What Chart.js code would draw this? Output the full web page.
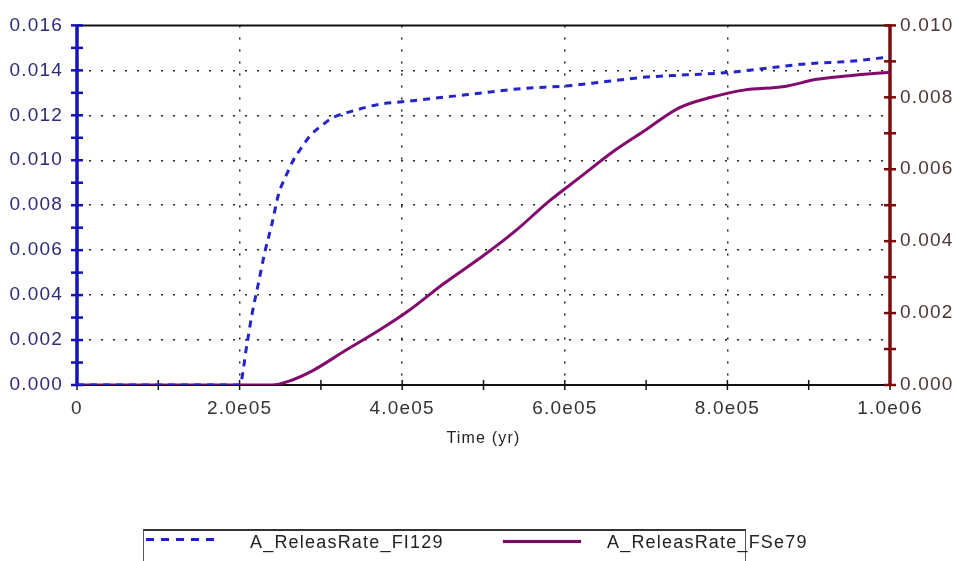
<!DOCTYPE html>
<html>
<head>
<meta charset="utf-8">
<script src="https://cdn.jsdelivr.net/npm/chart.js@4.4.1/dist/chart.umd.min.js"></script>
<style>
html,body{margin:0;padding:0;background:#fff;}
#wrap{position:relative;width:958px;height:561px;overflow:hidden;}
#legend{position:absolute;left:143px;top:529px;width:603px;height:40px;border:1px solid #555;border-top:2px solid #333;box-sizing:border-box;font-family:"Liberation Sans",Arial,sans-serif;font-size:18px;letter-spacing:1.2px;color:#222;}
.smp{position:absolute;height:3px;}
.lbl{position:absolute;top:1px;white-space:nowrap;}
</style>
</head>
<body>
<div id="wrap">
<canvas id="c" width="958" height="561"></canvas>
<div id="legend">
  <div class="smp" style="left:2px;top:7px;width:73px;background:repeating-linear-gradient(to right,#2020c8 0 8px,transparent 8px 15px);"></div>
  <div class="lbl" id="l1" style="left:106px;"></div>
  <div class="smp" style="left:359px;top:9px;width:78px;background:#7a0a5e;box-shadow:0 0 1px #c020c0;"></div>
  <div class="lbl" id="l2" style="left:463px;"></div>
</div>
</div>
<script>
// ---- data ----
const seriesNames = ['A_ReleasRate_FI129', 'A_ReleasRate_FSe79'];
const i129Time = [0, 2.0e5, 2.09e5, 2.15e5, 2.23e5, 2.31e5, 2.40e5, 2.48e5, 2.57e5, 2.66e5, 2.75e5, 2.87e5, 3.03e5, 3.15e5, 3.40e5, 3.73e5, 4.0e5, 4.5e5, 5.0e5, 5.5e5, 6.0e5, 6.5e5, 7.0e5, 7.5e5, 8.0e5, 8.5e5, 9.0e5, 9.5e5, 1.0e6];
const i129Rate = [0, 0, 0.0018, 0.0031, 0.0045, 0.0059, 0.0072, 0.0085, 0.0093, 0.0100, 0.0105, 0.0111, 0.0116, 0.0119, 0.0122, 0.0125, 0.0126, 0.0128, 0.0130, 0.0132, 0.0133, 0.0135, 0.0137, 0.0138, 0.0139, 0.0141, 0.0143, 0.0144, 0.0146];
const se79Time = [0, 2.4e5, 2.6e5, 2.9e5, 3.3e5, 3.7e5, 4.1e5, 4.5e5, 5.0e5, 5.4e5, 5.8e5, 6.2e5, 6.6e5, 7.0e5, 7.4e5, 7.8e5, 8.2e5, 8.7e5, 9.1e5, 9.5e5, 1.0e6];
const se79Rate = [0, 0, 0.0001, 0.0004, 0.00096, 0.0015, 0.0021, 0.0028, 0.0036, 0.0043, 0.0051, 0.0058, 0.0065, 0.0071, 0.0077, 0.0080, 0.0082, 0.0083, 0.0085, 0.0086, 0.0087];
const xTickLabels = ['0', '2.0e05', '4.0e05', '6.0e05', '8.0e05', '1.0e06'];
const yLeftTickLabels = ['0.000', '0.002', '0.004', '0.006', '0.008', '0.010', '0.012', '0.014', '0.016'];
const yRightTickLabels = ['0.000', '0.002', '0.004', '0.006', '0.008', '0.010'];
const xTitle = 'Time (yr)';

document.getElementById('l1').textContent = seriesNames[0];
document.getElementById('l2').textContent = seriesNames[1];

const FONT = '"Liberation Sans", Arial, sans-serif';
const gridColor = (ctx, n) => (ctx.index === 0 || ctx.index === n - 1) ? 'rgba(0,0,0,0)' : '#222';

const axesPlugin = {
  id: 'axes',
  beforeDraw(chart) { chart.ctx.letterSpacing = '1.2px'; },
  beforeDatasetsDraw(chart) {
    const {ctx, chartArea: {left, right, top, bottom}, scales: {x, y, y1}} = chart;
    ctx.save();
    ctx.letterSpacing = '0px';
    const line = (a, b, c, d) => { ctx.beginPath(); ctx.moveTo(a, b); ctx.lineTo(c, d); ctx.stroke(); };
    ctx.strokeStyle = '#111'; ctx.lineWidth = 2;
    line(left, top, right, top);
    line(left, bottom, right, bottom);
    for (let k = 0; k <= 10; k++) {
      const px = x.getPixelForValue(x.min + (x.max - x.min) * k / 10);
      ctx.lineWidth = 1.5; line(px, bottom - 5, px, bottom + 5);
    }
    // left axis
    ctx.strokeStyle = '#1414b8'; ctx.lineWidth = 3.5;
    line(left, top - 1, left, bottom + 1);
    ctx.lineWidth = 2.5;
    for (let k = 0; k <= 16; k++) {
      const py = y.getPixelForValue(y.min + (y.max - y.min) * k / 16);
      line(left - 6, py, left + 6, py);
    }
    // right axis
    ctx.strokeStyle = '#7a0c0c'; ctx.lineWidth = 3.5;
    line(right, top - 1, right, bottom + 1);
    ctx.lineWidth = 2.5;
    for (let k = 0; k <= 10; k++) {
      const py = y1.getPixelForValue(y1.min + (y1.max - y1.min) * k / 10);
      line(right - 6, py, right + 6, py);
    }
    ctx.restore();
  }
};

new Chart(document.getElementById('c'), {
  type: 'line',
  data: {
    datasets: [
      {
        label: seriesNames[0],
        data: i129Time.map((t, i) => ({x: t, y: i129Rate[i]})),
        yAxisID: 'y',
        borderColor: '#2424cc',
        borderWidth: 3,
        borderDash: [7, 6],
        pointRadius: 0,
        cubicInterpolationMode: 'monotone',
        fill: false
      },
      {
        label: seriesNames[1],
        data: se79Time.map((t, i) => ({x: t, y: se79Rate[i]})),
        yAxisID: 'y1',
        borderColor: '#820a6c',
        borderWidth: 3,
        pointRadius: 0,
        cubicInterpolationMode: 'monotone',
        fill: false
      }
    ]
  },
  options: {
    responsive: false,
    animation: false,
    events: [],
    layout: {padding: {top: 19, bottom: 113, left: 0, right: 0}},
    plugins: {legend: {display: false}, tooltip: {enabled: false}},
    scales: {
      x: {
        type: 'linear', min: 0, max: 1e6,
        border: {display: false, dash: [2, 10]},
        grid: {color: c => gridColor(c, xTickLabels.length), lineWidth: 1.5, drawTicks: false},
        ticks: {stepSize: 2e5, autoSkip: false, maxRotation: 0, padding: 12, color: '#333', font: {family: FONT, size: 19},
                callback: (v, i) => xTickLabels[i]},
        title: {display: true, text: xTitle, color: '#222', font: {family: FONT, size: 16}, padding: 0},
        afterFit: s => { s.height = 63; }
      },
      y: {
        type: 'linear', position: 'left', min: 0, max: 0.016,
        border: {display: false, dash: [2, 10]},
        grid: {color: c => gridColor(c, yLeftTickLabels.length), lineWidth: 1.5, drawTicks: false},
        ticks: {stepSize: 0.002, autoSkip: false, padding: 14, color: '#2c2c78', font: {family: FONT, size: 19},
                callback: (v, i) => yLeftTickLabels[i]},
        afterFit: s => { s.width = 77; }
      },
      y1: {
        type: 'linear', position: 'right', min: 0, max: 0.010,
        border: {display: false},
        grid: {display: false, drawTicks: false},
        ticks: {stepSize: 0.002, autoSkip: false, padding: 10, color: '#4e3434', font: {family: FONT, size: 19},
                callback: (v, i) => yRightTickLabels[i]},
        afterFit: s => { s.width = 68; }
      }
    }
  },
  plugins: [axesPlugin]
});
</script>
</body>
</html>
